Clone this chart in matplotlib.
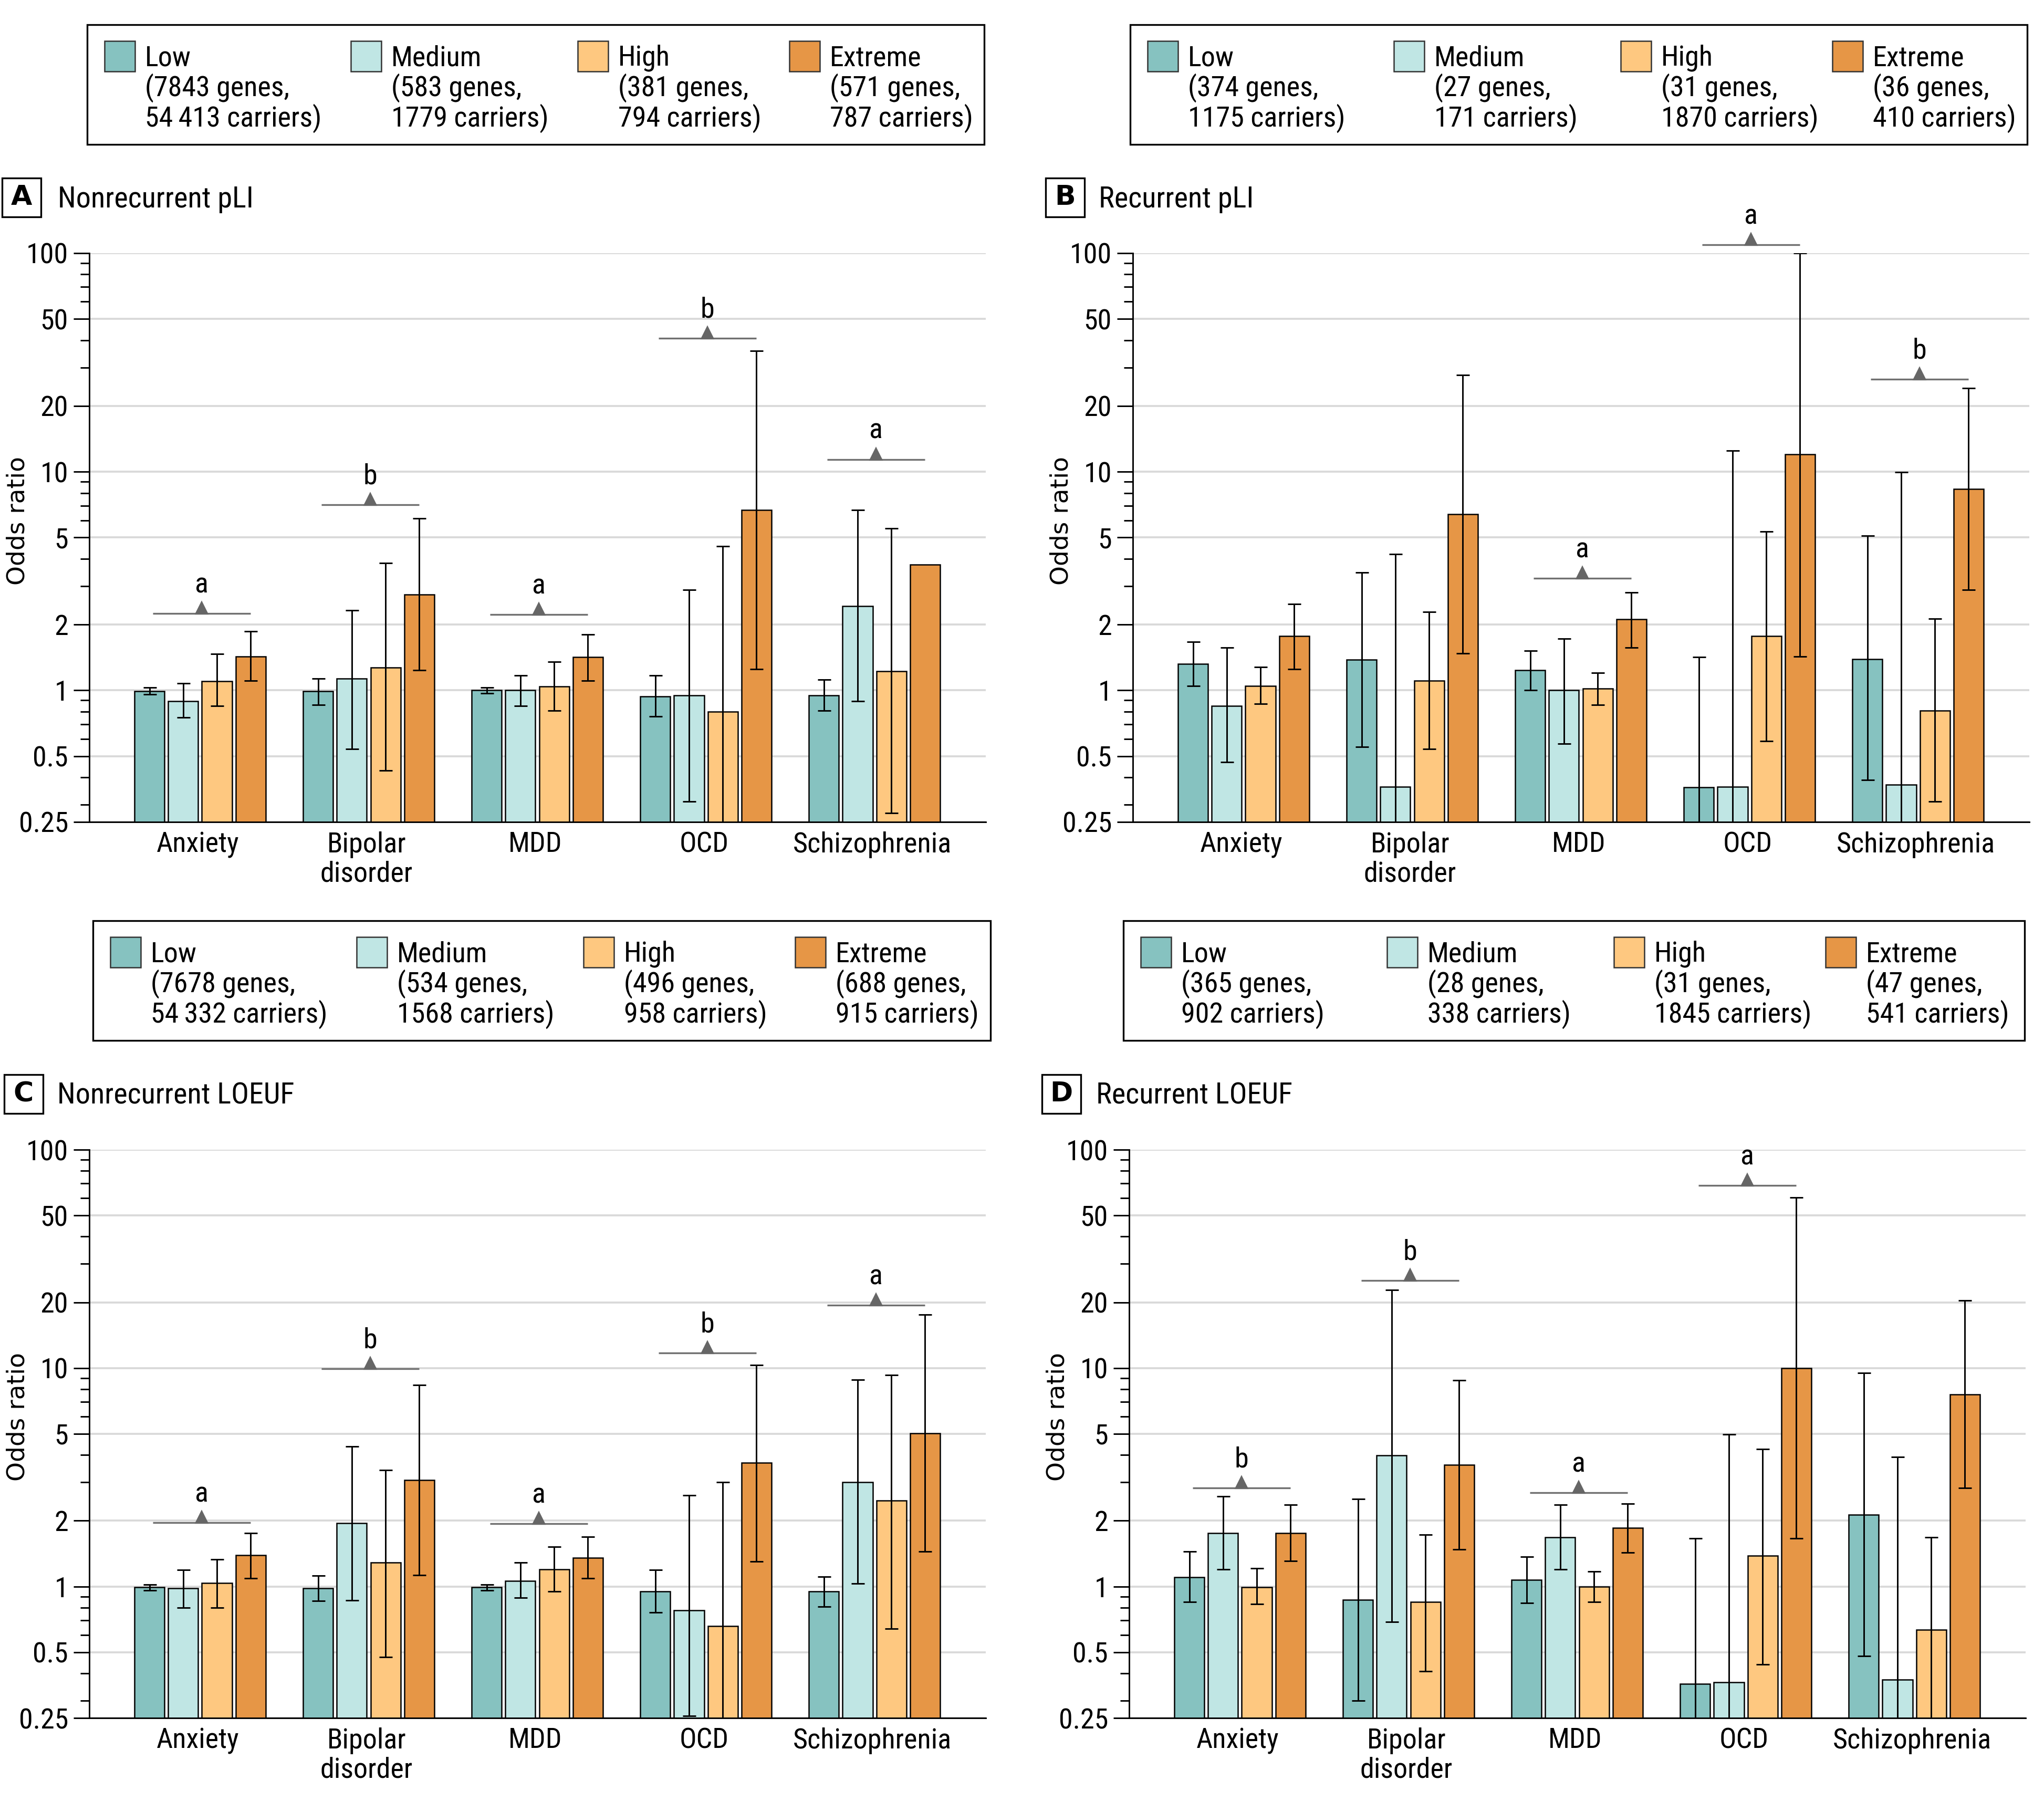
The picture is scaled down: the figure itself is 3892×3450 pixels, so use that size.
import os
import numpy as np
import matplotlib
matplotlib.use("Agg")
import matplotlib.pyplot as plt
from matplotlib import font_manager
from matplotlib.font_manager import FontProperties
from matplotlib.patches import Rectangle
from matplotlib.ticker import FixedLocator, NullFormatter
from matplotlib.transforms import offset_copy

# ---------------- data ----------------
disorders = ["Anxiety", "Bipolar\ndisorder", "MDD", "OCD", "Schizophrenia"]
levels = ["Low", "Medium", "High", "Extreme"]

# Panel A - Nonrecurrent pLI (rows: Low, Medium, High, Extreme)
A_or = [[0.99, 0.99, 1.00, 0.94, 0.95],
        [0.89, 1.13, 1.00, 0.95, 2.43],
        [1.10, 1.27, 1.04, 0.80, 1.22],
        [1.43, 2.75, 1.42, 6.67, 3.76]]
A_lo = [[0.96, 0.86, 0.97, 0.76, 0.81],
        [0.75, 0.54, 0.85, 0.31, 0.89],
        [0.85, 0.43, 0.81, 0.20, 0.275],
        [1.11, 1.24, 1.11, 1.25, np.nan]]
A_hi = [[1.03, 1.13, 1.03, 1.17, 1.12],
        [1.08, 2.33, 1.17, 2.89, 6.70],
        [1.47, 3.82, 1.35, 4.56, 5.50],
        [1.86, 6.13, 1.80, 35.8, np.nan]]
A_sig_y = [2.25, 7.08, 2.22, 40.9, 11.4]
A_sig_lab = ["a", "b", "a", "b", "a"]
A_genes = ["7843", "583", "381", "571"]
A_carriers = ["54\u2009413", "1779", "794", "787"]

# Panel B - Recurrent pLI
B_or = [[1.32, 1.38, 1.24, 0.36, 1.39],
        [0.85, 0.363, 1.00, 0.363, 0.37],
        [1.05, 1.11, 1.02, 1.77, 0.81],
        [1.77, 6.41, 2.12, 12.0, 8.33]]
B_lo = [[1.05, 0.55, 1.00, 0.20, 0.39],
        [0.47, 0.20, 0.57, 0.20, 0.20],
        [0.87, 0.54, 0.86, 0.586, 0.31],
        [1.25, 1.48, 1.57, 1.43, 2.88]]
B_hi = [[1.67, 3.46, 1.52, 1.42, 5.10],
        [1.57, 4.21, 1.72, 12.5, 9.95],
        [1.28, 2.28, 1.20, 5.34, 2.13],
        [2.48, 27.7, 2.80, 100.0, 24.1]]
B_sig_y = [np.nan, np.nan, 3.26, 109.0, 26.5]
B_sig_lab = ["", "", "a", "a", "b"]
B_genes = ["374", "27", "31", "36"]
B_carriers = ["1175", "171", "1870", "410"]

# Panel C - Nonrecurrent LOEUF
C_or = [[0.99, 0.98, 0.99, 0.947, 0.947],
        [0.98, 1.95, 1.06, 0.78, 3.01],
        [1.04, 1.29, 1.20, 0.66, 2.47],
        [1.39, 3.07, 1.35, 3.69, 5.02]]
C_lo = [[0.96, 0.86, 0.96, 0.76, 0.81],
        [0.80, 0.865, 0.89, 0.255, 1.03],
        [0.80, 0.476, 0.95, 0.20, 0.64],
        [1.09, 1.13, 1.09, 1.30, 1.45]]
C_hi = [[1.02, 1.12, 1.02, 1.19, 1.11],
        [1.19, 4.37, 1.29, 2.62, 8.85],
        [1.33, 3.41, 1.52, 3.00, 9.30],
        [1.76, 8.37, 1.69, 10.3, 17.6]]
C_sig_y = [1.96, 9.93, 1.94, 11.7, 19.4]
C_sig_lab = ["a", "b", "a", "b", "a"]
C_genes = ["7678", "534", "496", "688"]
C_carriers = ["54\u2009332", "1568", "958", "915"]

# Panel D - Recurrent LOEUF
D_or = [[1.10, 0.87, 1.07, 0.359, 2.13],
        [1.76, 3.98, 1.68, 0.365, 0.374],
        [0.99, 0.85, 1.00, 1.38, 0.635],
        [1.76, 3.61, 1.86, 9.97, 7.56]]
D_lo = [[0.85, 0.30, 0.84, 0.20, 0.48],
        [1.20, 0.69, 1.20, 0.20, 0.20],
        [0.83, 0.41, 0.85, 0.44, 0.20],
        [1.31, 1.48, 1.43, 1.66, 2.83]]
D_hi = [[1.45, 2.51, 1.37, 1.66, 9.50],
        [2.58, 22.8, 2.37, 4.97, 3.92],
        [1.21, 1.73, 1.17, 4.27, 1.68],
        [2.37, 8.80, 2.39, 60.3, 20.4]]
D_sig_y = [2.83, 25.2, 2.69, 68.7, np.nan]
D_sig_lab = ["b", "b", "a", "a", ""]
D_genes = ["365", "28", "31", "47"]
D_carriers = ["902", "338", "1845", "541"]

yticks = [0.25, 0.5, 1, 2, 5, 10, 20, 50, 100]
yticklabels = ["0.25", "0.5", "1", "2", "5", "10", "20", "50", "100"]
yminor = [0.3, 0.4, 0.6, 0.7, 0.8, 0.9, 3, 4, 6, 7, 8, 9, 30, 40, 60, 70, 80, 90]

# ---------------- fonts ----------------
BAD = ("bold", "italic", "oblique", "light", "thin", "black", "medium", "semibold",
       "extrabold", "heavy", "mono", "serif", "book")


def find_condensed():
    entries = font_manager.fontManager.ttflist
    prefs = ["Liberation Sans Narrow", "Roboto Condensed", "Open Sans Condensed",
             "Noto Sans Condensed", "DejaVu Sans Condensed", "Arial Narrow"]
    for p in prefs:
        for f in entries:
            if f.name == p and f.style == "normal":
                base = os.path.basename(f.fname).lower()
                if not any(b in base for b in BAD):
                    return f.fname
    for f in entries:
        base = os.path.basename(f.fname).lower()
        if ("condensed" in base or "narrow" in base) and f.style == "normal" \
                and not any(b in base for b in BAD) and "sans" in f.name.lower() + base:
            return f.fname
    for f in entries:
        if str(f.stretch) in ("condensed", "semi-condensed") and f.style == "normal":
            base = os.path.basename(f.fname).lower()
            if not any(b in base for b in BAD):
                return f.fname
    return None


COND_PATH = find_condensed()
SCALE = 1.0
if COND_PATH is None:
    SCALE = 0.88
    COND_PATH = font_manager.findfont(FontProperties(family="Liberation Sans"))


def fpz(size):
    return FontProperties(fname=COND_PATH, size=size * SCALE)


FS = 13

# ---------------- style ----------------
colors = ["#86C2C0", "#C0E6E4", "#FEC880", "#E69646"]
W, H, DPI = 3892, 3450, 300

fig = plt.figure(figsize=(W / DPI, H / DPI), dpi=DPI)
fig.patch.set_facecolor("white")


def fx(x):
    return x / W


def fy(y):
    return 1 - y / H


layout = {
    "A": dict(ax=(170, 482, 1877, 1565), leg=(166, 47, 1874, 275), lab=(4, 339), title_x=110),
    "B": dict(ax=(2157, 482, 3864, 1565), leg=(2152, 47, 3860, 275), lab=(1991, 339), title_x=2092),
    "C": dict(ax=(170, 2189, 1877, 3271), leg=(177, 1753, 1886, 1981), lab=(8, 2046), title_x=109),
    "D": dict(ax=(2150, 2189, 3857, 3271), leg=(2139, 1753, 3855, 1981), lab=(1984, 2046), title_x=2087),
}

offsets = [-0.3, -0.1, 0.1, 0.3]
bar_w = 0.178


def draw_panel(key, title, OR, LO, HI, sig_y, sig_lab, genes, carriers):
    L = layout[key]
    l, t, r, b = L["ax"]
    ax = fig.add_axes([fx(l), fy(b), (r - l) / W, (b - t) / H])
    ax.set_yscale("log")
    x = np.arange(len(disorders))
    base = 0.1
    for i in range(len(levels)):
        xi = x + offsets[i]
        ori = np.array(OR[i], float)
        ax.bar(xi, ori - base, bottom=base, width=bar_w, color=colors[i],
               edgecolor="black", linewidth=0.6, zorder=2)
        lo = np.array(LO[i], float)
        hi = np.array(HI[i], float)
        m = ~np.isnan(lo)
        ax.errorbar(xi[m], ori[m], yerr=[ori[m] - lo[m], hi[m] - ori[m]], fmt="none",
                    ecolor="black", elinewidth=0.7, capsize=3, capthick=0.7, zorder=3)
    tri_tr = offset_copy(ax.transData, fig=fig, y=2.4, units="points")
    for g, (yv, lab) in enumerate(zip(sig_y, sig_lab)):
        if not lab:
            continue
        ax.plot([g - 0.28, g + 0.30], [yv, yv], color="#707070", lw=0.8,
                clip_on=False, zorder=4, solid_capstyle="butt")
        ax.plot([g + 0.01], [yv], marker="^", ms=5, color="#666666", mec="#666666",
                transform=tri_tr, clip_on=False, zorder=4, linestyle="none")
        ax.annotate(lab, (g + 0.01, yv), xytext=(0, 9.5), textcoords="offset points",
                    ha="center", va="baseline", fontproperties=fpz(FS),
                    annotation_clip=False)
    ax.set_ylim(0.25, 100)
    ax.set_xlim(-0.657, 4.66)
    ax.set_yticks(yticks)
    ax.set_yticklabels(yticklabels, fontproperties=fpz(FS))
    ax.yaxis.set_minor_locator(FixedLocator(yminor))
    ax.yaxis.set_minor_formatter(NullFormatter())
    ax.tick_params(axis="y", which="major", length=7.2, width=0.7, pad=2.4)
    ax.tick_params(axis="y", which="minor", length=4.0, width=0.7)
    ax.set_xticks(x - 0.012)
    ax.set_xticklabels(disorders, fontproperties=fpz(FS), linespacing=1.12)
    ax.tick_params(axis="x", length=0, pad=4.2)
    ax.grid(axis="y", which="major", color="#d9d9d9", lw=0.9, zorder=0)
    ax.set_axisbelow(True)
    for s in ["top", "right"]:
        ax.spines[s].set_visible(False)
    ax.spines["left"].set_linewidth(0.7)
    ax.spines["bottom"].set_linewidth(0.7)
    ax.set_ylabel("Odds ratio", family=["DejaVu Sans"], fontsize=11.3)
    ax.yaxis.label.set_verticalalignment("center")
    ax.yaxis.set_label_coords(-136 / (r - l), 0.53)

    # panel letter and title
    lx, ly = L["lab"]
    fig.add_artist(Rectangle((fx(lx), fy(ly + 74)), 74 / W, 74 / H, transform=fig.transFigure,
                             fill=False, edgecolor="black", lw=0.8))
    fig.text(fx(lx + 37), fy(ly + 37), key, ha="center", va="center", fontsize=12.5,
             fontweight="bold", family=["DejaVu Sans"])
    fig.text(fx(L["title_x"]), fy(ly + 40), title, ha="left", va="center",
             fontproperties=fpz(13.5))

    # legend box
    bl, bt, br, bb = L["leg"]
    fig.add_artist(Rectangle((fx(bl), fy(bb)), (br - bl) / W, (bb - bt) / H,
                             transform=fig.transFigure, fill=False, edgecolor="black", lw=0.8))
    col_off = [33, 502, 934, 1337]
    for i, lev in enumerate(levels):
        px = bl + col_off[i]
        fig.add_artist(Rectangle((fx(px), fy(bt + 31 + 58)), 58 / W, 58 / H,
                                 transform=fig.transFigure, facecolor=colors[i],
                                 edgecolor="#333333", lw=0.6))
        lines = [lev, "(" + genes[i] + " genes,", carriers[i] + " carriers)"]
        for j, s in enumerate(lines):
            fig.text(fx(px + 77), fy(bt + 78 + 58 * j), s, ha="left", va="baseline",
                     fontproperties=fpz(13.0))
    return ax


draw_panel("A", "Nonrecurrent pLI", A_or, A_lo, A_hi, A_sig_y, A_sig_lab, A_genes, A_carriers)
draw_panel("B", "Recurrent pLI", B_or, B_lo, B_hi, B_sig_y, B_sig_lab, B_genes, B_carriers)
draw_panel("C", "Nonrecurrent LOEUF", C_or, C_lo, C_hi, C_sig_y, C_sig_lab, C_genes, C_carriers)
draw_panel("D", "Recurrent LOEUF", D_or, D_lo, D_hi, D_sig_y, D_sig_lab, D_genes, D_carriers)

fig.savefig("out.png", dpi=DPI, facecolor="white")
